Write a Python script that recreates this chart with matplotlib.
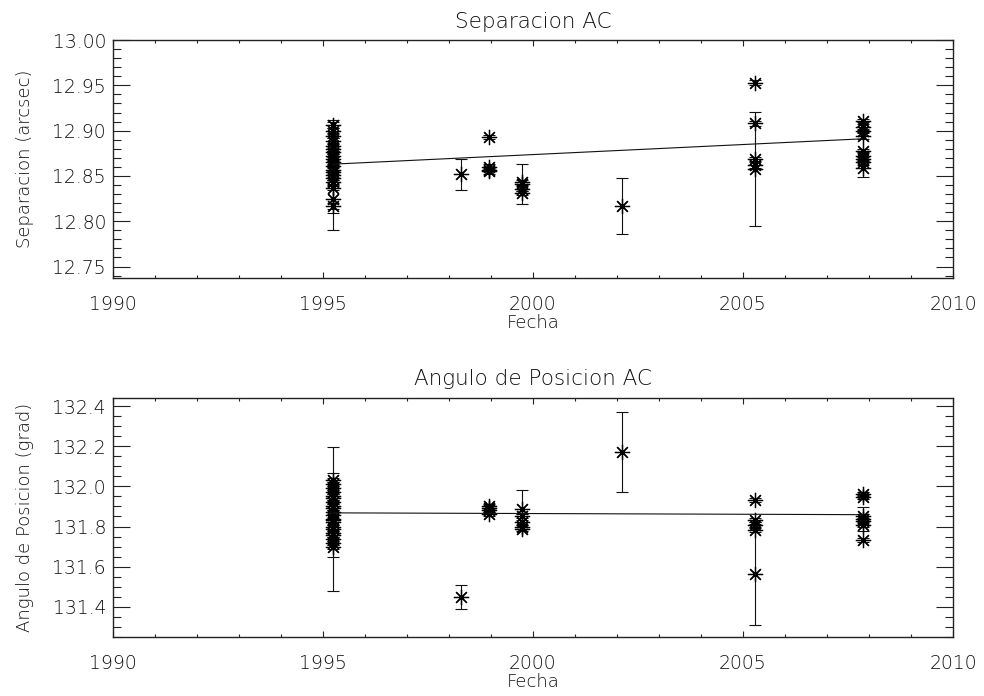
import matplotlib
matplotlib.use('Agg')
import matplotlib.pyplot as plt
from matplotlib.ticker import MultipleLocator, FormatStrFormatter

plt.rcParams['font.family'] = ['DejaVu Sans']
plt.rcParams['font.weight'] = 'light'

# separacion AC (arcsec), fecha en anyos
sep_fecha = ([1995.23] * 19 + [1998.28] + [1998.95] * 4 + [1999.74] * 4
             + [2002.13] + [2005.29] * 5 + [2007.86] * 9)
sep_val = [12.906, 12.900, 12.894, 12.889, 12.883, 12.880, 12.876, 12.872, 12.869,
           12.865, 12.861, 12.857, 12.854, 12.851, 12.848, 12.843, 12.837, 12.824, 12.817,
           12.852,
           12.893, 12.860, 12.857, 12.855,
           12.843, 12.841, 12.836, 12.831,
           12.817,
           12.953, 12.908, 12.869, 12.862, 12.858,
           12.911, 12.904, 12.900, 12.894, 12.878, 12.872, 12.869, 12.865, 12.859]
sep_err = [0.003, 0.003, 0.002, 0.003, 0.002, 0.003, 0.002, 0.003, 0.002,
           0.003, 0.002, 0.003, 0.002, 0.061, 0.003, 0.002, 0.003, 0.015, 0.003,
           0.017,
           0.002, 0.003, 0.002, 0.003,
           0.003, 0.022, 0.003, 0.002,
           0.031,
           0.003, 0.003, 0.002, 0.003, 0.063,
           0.002, 0.003, 0.002, 0.003, 0.002, 0.003, 0.002, 0.003, 0.010]

# angulo de posicion AC (grados)
ang_fecha = ([1995.23] * 21 + [1998.28] + [1998.95] * 4 + [1999.74] * 5
             + [2002.13] + [2005.29] * 5 + [2007.86] * 7)
ang_val = [132.03, 132.01, 131.99, 131.97, 131.95, 131.94, 131.92, 131.90, 131.89,
           131.87, 131.857, 131.838, 131.83, 131.82, 131.80, 131.79, 131.77, 131.76,
           131.74, 131.72, 131.70,
           131.448,
           131.90, 131.89, 131.88, 131.86,
           131.885, 131.85, 131.82, 131.80, 131.79,
           132.17,
           131.93, 131.83, 131.81, 131.785, 131.562,
           131.96, 131.945, 131.85, 131.838, 131.826, 131.81, 131.735]
ang_err = [0.01, 0.01, 0.01, 0.01, 0.01, 0.01, 0.01, 0.01, 0.01,
           0.01, 0.207, 0.36, 0.01, 0.01, 0.01, 0.01, 0.01, 0.01,
           0.01, 0.01, 0.01,
           0.06,
           0.01, 0.01, 0.01, 0.01,
           0.095, 0.01, 0.01, 0.01, 0.01,
           0.20,
           0.01, 0.01, 0.01, 0.01, 0.25,
           0.01, 0.01, 0.01, 0.06, 0.01, 0.01, 0.01]

# ajuste lineal
fit_fecha = [1995.23, 2007.86]
fit_sep = [12.863, 12.891]
fit_ang = [131.868, 131.859]

txt = dict(fontsize=13, color='#111111', fontweight='light')
star = (8, 2, 0)

fig = plt.figure(figsize=(9.84, 6.96), dpi=100)
ax1 = fig.add_axes([0.1148, 0.6001, 0.8537, 0.3424])
ax2 = fig.add_axes([0.1148, 0.0848, 0.8537, 0.3434])

panels = [
    (ax1, sep_fecha, sep_val, sep_err, fit_sep, (12.737, 13.0), 0.05, 0.01, '%.2f',
     'Separacion AC', 'Separacion (arcsec)'),
    (ax2, ang_fecha, ang_val, ang_err, fit_ang, (131.25, 132.44), 0.2, 0.05, '%.1f',
     'Angulo de Posicion AC', 'Angulo de Posicion (grad)'),
]

for ax, x, y, e, fy, ylim, ymaj, ymin, fmt, title, ylab in panels:
    ax.errorbar(x, y, yerr=e, fmt='none', ecolor='#111111', elinewidth=0.8,
                capsize=4, capthick=0.8)
    ax.plot(x, y, linestyle='none', marker=star, markersize=11,
            markeredgecolor='black', markeredgewidth=0.9)
    ax.plot(fit_fecha, fy, color='#111111', linewidth=0.8)

    ax.set_xlim(1990, 2010)
    ax.set_ylim(*ylim)
    ax.xaxis.set_major_locator(MultipleLocator(5))
    ax.xaxis.set_minor_locator(MultipleLocator(1))
    ax.yaxis.set_major_locator(MultipleLocator(ymaj))
    ax.yaxis.set_minor_locator(MultipleLocator(ymin))
    ax.yaxis.set_major_formatter(FormatStrFormatter(fmt))

    ax.tick_params(which='both', direction='in', top=True, right=True,
                   color='#222222', labelcolor='#111111', labelsize=13.5, width=0.8)
    ax.tick_params(axis='y', which='major', length=12, pad=5)
    ax.tick_params(axis='y', which='minor', length=5.5)
    ax.tick_params(axis='x', which='major', length=4, pad=12)
    ax.tick_params(axis='x', which='minor', length=2)
    for s in ax.spines.values():
        s.set_linewidth(1.0)
        s.set_color('#222222')

    ax.set_title(title, pad=9, fontsize=15.5, color='#111111', fontweight='light')
    ax.set_xlabel('Fecha', labelpad=0, **txt)
    ax.set_ylabel(ylab, **txt)
    ax.yaxis.set_label_coords(-0.094, 0.5)

fig.savefig('out.png', dpi=100)
